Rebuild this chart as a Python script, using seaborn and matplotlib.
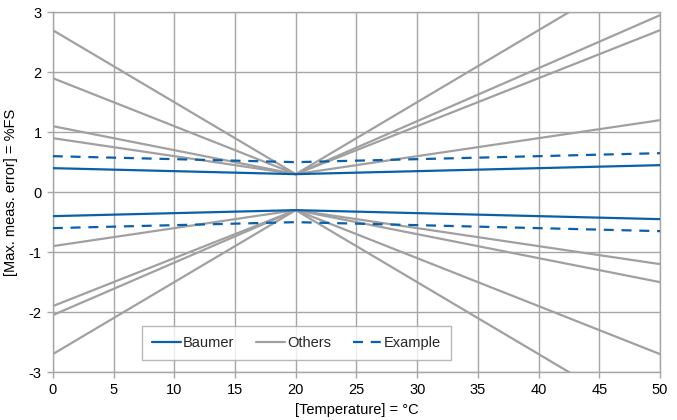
import matplotlib
matplotlib.use("Agg")
import matplotlib.pyplot as plt
import seaborn as sns
import pandas as pd

temps = [0, 20, 50]
baumer_upper = [0.4, 0.3, 0.45]
baumer_lower = [-0.4, -0.3, -0.45]
example_upper = [0.6, 0.5, 0.65]
example_lower = [-0.6, -0.5, -0.65]
others = [
    [2.7, 0.3, 3.9],
    [1.9, 0.3, 2.95],
    [1.1, 0.3, 2.7],
    [0.9, 0.3, 1.2],
    [-0.9, -0.3, -1.2],
    [-1.9, -0.3, -1.5],
    [-2.05, -0.3, -2.7],
    [-2.7, -0.3, -3.9],
]
x_ticks = [0, 5, 10, 15, 20, 25, 30, 35, 40, 45, 50]
y_ticks = [-3, -2, -1, 0, 1, 2, 3]

sns.set_theme(style="white")
plt.rcParams['font.family'] = ['Liberation Sans', 'DejaVu Sans']
plt.rcParams['axes.unicode_minus'] = False

fig = plt.figure(figsize=(6.77, 4.2), dpi=100)
ax = fig.add_axes([0.078, 0.114, 0.897, 0.857])

BLUE = "#0a5fa8"
GRAY = "#a0a0a0"
GRID = "#a6a6a6"

for i, ys in enumerate(others):
    df = pd.DataFrame({"t": temps, "v": ys})
    sns.lineplot(data=df, x="t", y="v", ax=ax, color=GRAY, lw=1.6,
                 label="Others" if i == 0 else None, zorder=2)

for i, ys in enumerate([baumer_upper, baumer_lower]):
    df = pd.DataFrame({"t": temps, "v": ys})
    sns.lineplot(data=df, x="t", y="v", ax=ax, color=BLUE, lw=1.6,
                 label="Baumer" if i == 0 else None, zorder=3)

for i, ys in enumerate([example_upper, example_lower]):
    df = pd.DataFrame({"t": temps, "v": ys})
    sns.lineplot(data=df, x="t", y="v", ax=ax, color=BLUE, lw=1.6,
                 linestyle=(0, (4.5, 3.5)),
                 label="Example" if i == 0 else None, zorder=3)

ax.set_xlim(0, 50)
ax.set_ylim(-3, 3)
ax.set_xticks(x_ticks)
ax.set_yticks(y_ticks)
ax.grid(True, color=GRID, lw=1.0)
ax.set_axisbelow(True)
for s in ax.spines.values():
    s.set_color(GRID)
    s.set_linewidth(1.0)
ax.tick_params(axis="both", which="both", length=4, width=1.0, color=GRID,
               labelsize=10.5, labelcolor="#000000", direction="out",
               bottom=True, left=True, pad=4)
ax.set_xlabel("[Temperature] = °C", fontsize=10.5, color="black", labelpad=4)
ax.set_ylabel("[Max. meas. error] = %FS", fontsize=10.5, color="black", labelpad=8)

handles, labels = ax.get_legend_handles_labels()
order = [labels.index(n) for n in ["Baumer", "Others", "Example"]]
leg = ax.legend([handles[i] for i in order], [labels[i] for i in order],
                ncol=3, loc="lower center", bbox_to_anchor=(0.401, 0.013),
                frameon=True, fancybox=False, edgecolor=GRID, fontsize=10.5,
                handlelength=2.0, handletextpad=0.1, columnspacing=1.5,
                borderpad=0.7)
leg.get_frame().set_linewidth(1.0)

fig.savefig("out.png", dpi=100)
